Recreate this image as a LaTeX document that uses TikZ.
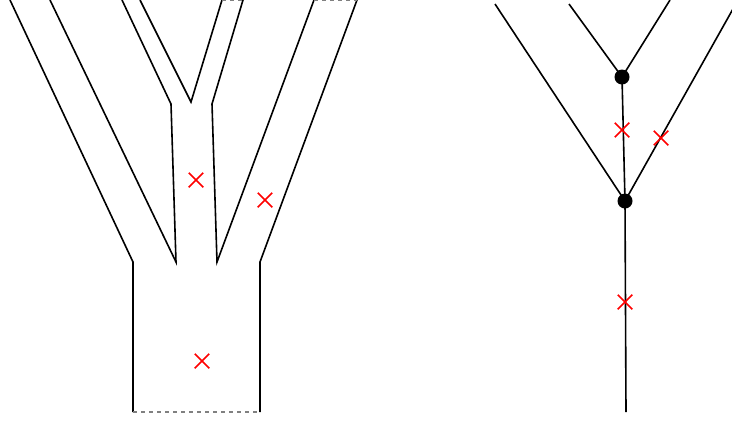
\documentclass[tikz,border=0pt]{standalone}
\usetikzlibrary{shapes.misc}
\begin{document}
\begin{tikzpicture}[x=1bp,y=-1bp,
  edge/.style={line width=1.6bp,black,line join=miter},
  open/.style={gray,line width=1.3bp,dash pattern=on 4bp off 4bp},
  cross/.style={cross out,draw=red,line width=1.5bp,inner sep=0pt,minimum size=13bp},
  vertex/.style={circle,fill=black,inner sep=0pt,minimum size=15bp}]
\useasboundingbox (0,0) rectangle (732,424);
\clip (0,0) rectangle (732,424);
% ---------- left figure ----------
\coordinate (tl1) at (10,0);
\coordinate (tl2) at (50,0);
\coordinate (tl3) at (122,0);
\coordinate (tl4) at (140,0);
\coordinate (tl5) at (222,0);
\coordinate (tl6) at (243,0);
\coordinate (tl7) at (314,0);
\coordinate (tl8) at (357,0);
\coordinate (kl) at (133,262);
\coordinate (kr) at (260,262);
\coordinate (bl) at (133,412);
\coordinate (br) at (260,412);
\coordinate (v1) at (176,262);
\coordinate (v2) at (217,262);
\coordinate (e1) at (171,104);
\coordinate (e2) at (212,104);
\coordinate (yv) at (191,102);
\draw[edge] (tl1) -- (kl) -- (bl);
\draw[edge] (tl8) -- (kr) -- (br);
\draw[edge] (tl2) -- (v1) -- (e1) -- (tl3);
\draw[edge] (tl4) -- (yv) -- (tl5);
\draw[edge] (tl6) -- (e2) -- (v2) -- (tl7);
\draw[open] (bl) -- (br);
\draw[open] (tl5) -- (tl6);
\draw[open] (tl7) -- (tl8);
% ---------- right figure ----------
\coordinate (r1) at (495,4);
\coordinate (r2) at (569,4);
\coordinate (r3) at (670,0);
\coordinate (r4) at (738,0);
\coordinate (r5) at (626,412);
\coordinate (pa) at (622,77);
\coordinate (pb) at (625,201);
\draw[edge] (r1) -- (pb);
\draw[edge] (r2) -- (pa) -- (r3);
\draw[edge] (pa) -- (pb) -- (r5);
\draw[edge] (pb) -- (r4);
\node[vertex] (A) at (pa) {};
\node[vertex] (B) at (pb) {};
% ---------- crosses ----------
\node[cross] (c1) at (196,180) {};
\node[cross] (c2) at (265,200) {};
\node[cross] (c3) at (202,361) {};
\node[cross] (c4) at (622,130) {};
\node[cross] (c5) at (661,138) {};
\node[cross] (c6) at (625,302) {};
\end{tikzpicture}
\end{document}
